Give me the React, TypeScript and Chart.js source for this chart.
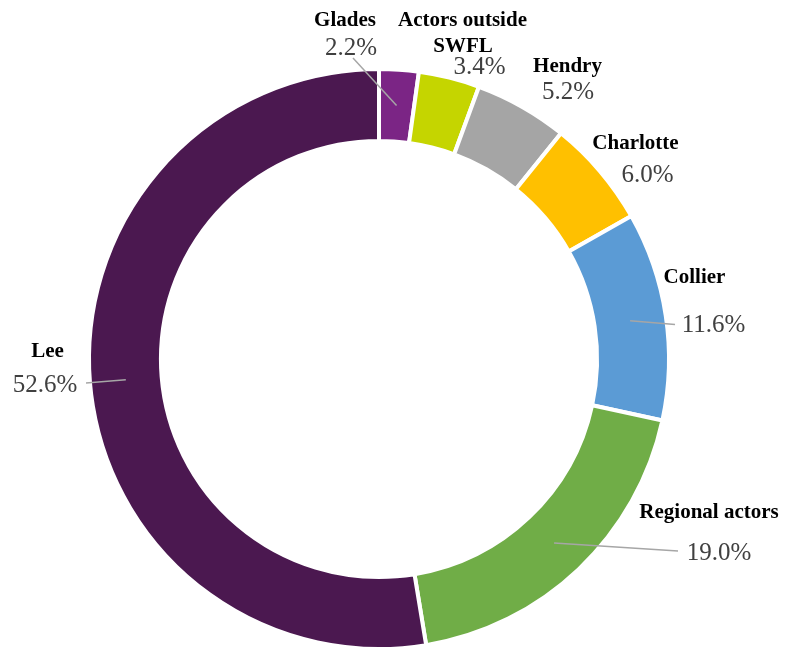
import React, { useEffect, useRef } from "react";
import Chart from "chart.js/auto";

const categories = ["Glades", "Actors outside SWFL", "Hendry", "Charlotte", "Collier", "Regional actors", "Lee"];
const nameLines = [["Glades"], ["Actors outside", "SWFL"], ["Hendry"], ["Charlotte"], ["Collier"], ["Regional actors"], ["Lee"]];
const shares = [2.2, 3.4, 5.2, 6.0, 11.6, 19.0, 52.6];
const colors = ["#7B2585", "#C5D500", "#A5A5A5", "#FFC000", "#5B9BD5", "#70AD47", "#4B1850"];

// label layout: offsets (px) from the doughnut centre, baseline positions
const nameOffsets = [
  [[-34, -333]],
  [[83.5, -333], [84, -307]],
  [[188.5, -287]],
  [[256.5, -210]],
  [[315.5, -76]],
  [[330, 158.7]],
  [[-331.5, -2]],
];
const pctOffsets = [[-28, -304], [100.5, -285], [189, -260], [268.5, -177], [334.5, -27], [340, 201], [-334, 33]];
const leaderEnds: (number[] | null)[] = [[-26, -301], null, null, null, [296, -34.5], [299, 192], [-293, 24]];

const labelPlugin = {
  id: "sliceLabels",
  afterDraw(chart: any) {
    const meta = chart.getDatasetMeta(0);
    const ctx = chart.ctx;
    const a0 = meta.data[0];
    const cx = a0.x;
    const cy = a0.y;
    ctx.save();
    meta.data.forEach((arc: any, i: number) => {
      const end = leaderEnds[i];
      if (end) {
        const p = arc.getCenterPoint();
        ctx.beginPath();
        ctx.strokeStyle = "#A6A6A6";
        ctx.lineWidth = 1.5;
        ctx.moveTo(p.x, p.y);
        ctx.lineTo(cx + end[0], cy + end[1]);
        ctx.stroke();
      }
    });
    ctx.textAlign = "center";
    ctx.textBaseline = "alphabetic";
    meta.data.forEach((arc: any, i: number) => {
      ctx.font = "bold 21px 'Liberation Serif'";
      ctx.fillStyle = "#000000";
      nameLines[i].forEach((line, j) => {
        const o = nameOffsets[i][j];
        ctx.fillText(line, cx + o[0], cy + o[1]);
      });
      ctx.font = "25px 'Liberation Serif'";
      ctx.fillStyle = "#404040";
      const po = pctOffsets[i];
      ctx.fillText(shares[i].toFixed(1) + "%", cx + po[0], cy + po[1]);
    });
    ctx.restore();
  },
};

export default function App() {
  const ref = useRef<HTMLCanvasElement>(null);
  useEffect(() => {
    if (!ref.current) return;
    const chart = new Chart(ref.current, {
      type: "doughnut",
      data: {
        labels: categories,
        datasets: [
          {
            data: shares,
            backgroundColor: colors,
            borderColor: "#ffffff",
            borderWidth: 4,
          },
        ],
      },
      options: {
        responsive: false,
        animation: false,
        cutout: "75.2%",
        layout: { padding: { left: 87, right: 118, top: 67, bottom: 9 } },
        plugins: { legend: { display: false }, tooltip: { enabled: false } },
      },
      plugins: [labelPlugin],
    });
    return () => chart.destroy();
  }, []);
  return (
    <div style={{ position: "fixed", left: 0, top: 0, width: 789, height: 648, overflow: "hidden", background: "#fff" }}>
      <canvas ref={ref} width={789} height={660} style={{ display: "block" }} />
    </div>
  );
}
